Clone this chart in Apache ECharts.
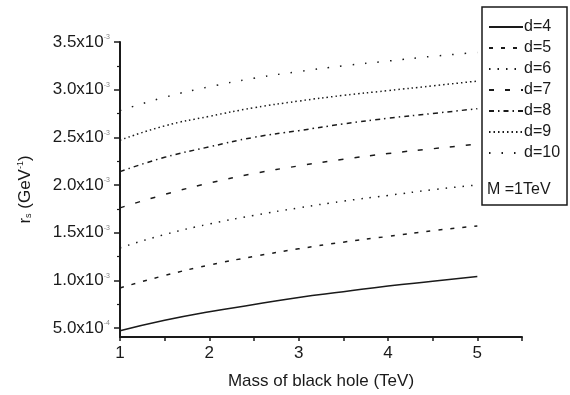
<!DOCTYPE html>
<html>
<head>
<meta charset="utf-8">
<script src="https://cdn.jsdelivr.net/npm/echarts@6/dist/echarts.min.js"></script>
<style>
  html, body { margin: 0; padding: 0; background: #fff; }
  #chart { width: 570px; height: 395px; }
</style>
</head>
<body>
<div id="chart"></div>
<script>
// black hole mass (TeV)
var massTeV = [1, 1.5, 2, 2.5, 3, 3.5, 4, 4.5, 5];
// r_s in units of 10^-3 GeV^-1
var rsD4 = [0.47, 0.58, 0.67, 0.745, 0.82, 0.88, 0.94, 0.99, 1.04];
var rsD5 = [0.92, 1.05, 1.16, 1.25, 1.33, 1.40, 1.46, 1.52, 1.57];
var rsD6 = [1.34, 1.48, 1.59, 1.68, 1.76, 1.83, 1.89, 1.95, 2.00];
var rsD7 = [1.76, 1.90, 2.02, 2.12, 2.20, 2.27, 2.33, 2.38, 2.43];
var rsD8 = [2.14, 2.29, 2.40, 2.50, 2.57, 2.64, 2.70, 2.75, 2.80];
var rsD9 = [2.47, 2.62, 2.72, 2.81, 2.88, 2.94, 2.99, 3.04, 3.09];
var rsD10 = [2.78, 2.92, 3.03, 3.12, 3.19, 3.25, 3.30, 3.35, 3.39];

var seriesNames = ['d=4', 'd=5', 'd=6', 'd=7', 'd=8', 'd=9', 'd=10'];
var yMajor = [0.5, 1.0, 1.5, 2.0, 2.5, 3.0, 3.5];
var yMinor = [0.75, 1.25, 1.75, 2.25, 2.75, 3.25];
var yLabels = ['5.0x10|-4', '1.0x10|-3', '1.5x10|-3', '2.0x10|-3', '2.5x10|-3', '3.0x10|-3', '3.5x10|-3'];

var font = '"Liberation Sans", Arial, sans-serif';
var ink = '#1a1a1a';
var fs = 17;

function pairs(ys) {
    var out = [];
    for (var i = 0; i < massTeV.length; i++) {
        out.push([massTeV[i], ys[i]]);
    }
    return out;
}

function makeSeries(name, ys, dash) {
    return {
        name: name,
        type: 'line',
        data: pairs(ys),
        smooth: true,
        symbol: 'none',
        color: ink,
        yAxisIndex: 0,
        lineStyle: { color: ink, width: 1.5, type: dash }
    };
}

var myChart = echarts.init(document.getElementById('chart'));

var option = {
    backgroundColor: '#fff',
    animation: false,
    grid: { left: 120, right: 48, top: 42, bottom: 56 },
    legend: {
        data: seriesNames,
        orient: 'vertical',
        left: 483,
        top: 14,
        itemWidth: 34,
        itemHeight: 14,
        itemGap: 5,
        itemStyle: { opacity: 0 },
        textStyle: { fontFamily: font, fontSize: 16, color: ink, padding: [0, 0, 0, -4] }
    },
    graphic: [
        {
            type: 'rect',
            shape: { x: 482, y: 7, width: 85, height: 198 },
            style: { fill: 'none', stroke: ink, lineWidth: 1.5 }
        },
        {
            type: 'text',
            x: 487,
            y: 182,
            style: { text: 'M =1TeV', font: '16px ' + font, fill: ink }
        }
    ],
    xAxis: {
        type: 'value',
        min: 1,
        max: 5.5,
        interval: 0.5,
        name: 'Mass of black hole (TeV)',
        nameLocation: 'middle',
        nameGap: 36,
        nameTextStyle: { fontFamily: font, fontSize: fs, color: ink },
        splitLine: { show: false },
        axisLine: { lineStyle: { color: ink, width: 2 } },
        axisTick: { inside: false, length: 4, lineStyle: { color: ink, width: 1.5 } },
        axisLabel: {
            fontFamily: font, fontSize: fs, color: ink, margin: 8,
            formatter: function (v) {
                return (v % 1 === 0 && v <= 5) ? String(v) : '';
            }
        }
    },
    yAxis: [
        {
            type: 'value',
            min: 0.405,
            max: 3.5,
            name: '{n|r}{sub|s}{n| (GeV}{sup|-1}{n|)}',
            nameLocation: 'middle',
            nameGap: 86,
            nameTextStyle: {
                fontFamily: font, fontSize: fs, color: ink,
                rich: {
                    n: { fontFamily: font, fontSize: fs, color: ink },
                    sub: { fontFamily: font, fontSize: 9, color: ink, padding: [8, 0, 0, 0] },
                    sup: { fontFamily: font, fontSize: 9, color: ink, padding: [0, 0, 9, 0] }
                }
            },
            splitLine: { show: false },
            axisLine: { show: true, lineStyle: { color: ink, width: 2 } },
            axisTick: { show: true, length: 6, lineStyle: { color: ink, width: 1.5 }, customValues: yMajor },
            axisLabel: {
                customValues: yMajor,
                margin: 10,
                formatter: function (v) {
                    var idx = -1;
                    for (var i = 0; i < yMajor.length; i++) {
                        if (Math.abs(yMajor[i] - v) < 1e-6) idx = i;
                    }
                    if (idx < 0) return '';
                    var parts = yLabels[idx].split('|');
                    return '{b|' + parts[0] + '}{s|' + parts[1] + '}';
                },
                rich: {
                    b: { fontFamily: font, fontSize: fs, color: ink },
                    s: { fontFamily: font, fontSize: 7, color: '#888', padding: [0, 0, 9, 0] }
                }
            }
        },
        {
            type: 'value',
            min: 0.405,
            max: 3.5,
            position: 'left',
            splitLine: { show: false },
            axisLine: { show: false },
            axisTick: { show: true, length: 3, lineStyle: { color: ink, width: 1.2 }, customValues: yMinor },
            axisLabel: { show: false }
        }
    ],
    series: [
        makeSeries('d=4', rsD4, 'solid'),
        makeSeries('d=5', rsD5, [4, 8]),
        makeSeries('d=6', rsD6, [1.5, 7]),
        makeSeries('d=7', rsD7, [5, 11]),
        makeSeries('d=8', rsD8, [5, 4, 1.5, 4]),
        makeSeries('d=9', rsD9, [1.5, 3]),
        makeSeries('d=10', rsD10, [1.5, 11])
    ]
};

myChart.setOption(option);
</script>
</body>
</html>
